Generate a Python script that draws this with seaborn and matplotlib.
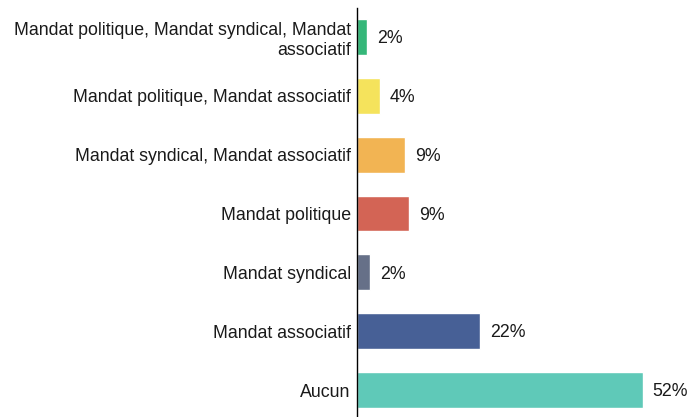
import pandas as pd
import numpy as np
import matplotlib.pyplot as plt
import seaborn as sns

# Values (shares in %, labels rounded)
categories = [
    "Mandat politique, Mandat syndical, Mandat\nassociatif",
    "Mandat politique, Mandat associatif",
    "Mandat syndical, Mandat associatif",
    "Mandat politique",
    "Mandat syndical",
    "Mandat associatif",
    "Aucun",
]
shares = [1.8, 4.1, 8.7, 9.5, 2.4, 22.4, 52.0]
labels = ["2%", "4%", "9%", "9%", "2%", "22%", "52%"]
colors = ["#35B779", "#F5E35C", "#F2B453", "#D36455", "#667088", "#476096", "#5FC9B8"]

df = pd.DataFrame({"cat": categories, "share": shares})

sns.set_style("white")
plt.rcParams["font.family"] = ["Liberation Sans", "DejaVu Sans"]

fig = plt.figure(figsize=(6.96, 4.17), dpi=100)
ax = fig.add_axes([0.513, -0.006, 0.48, 0.988])

sns.barplot(data=df, x="share", y="cat", hue="cat", palette=colors,
            legend=False, width=0.61, saturation=1, ax=ax)

for i, (v, lab) in enumerate(zip(shares, labels)):
    ax.text(v + 1.8, i + 0.03, lab, va="center", ha="left", fontsize=12.8, color="#1a1a1a")

ax.set_xlim(0, 60.8)
ax.set_ylim(6.5, -0.5)
ax.set_xlabel("")
ax.set_ylabel("")
ax.set_xticks([])
ax.tick_params(axis="y", length=0, pad=4.5, labelsize=12.8, labelcolor="#1a1a1a")
for s in ["top", "right", "bottom"]:
    ax.spines[s].set_visible(False)
ax.spines["left"].set_color("black")
ax.spines["left"].set_linewidth(1)

fig.savefig("out.png", dpi=100)
